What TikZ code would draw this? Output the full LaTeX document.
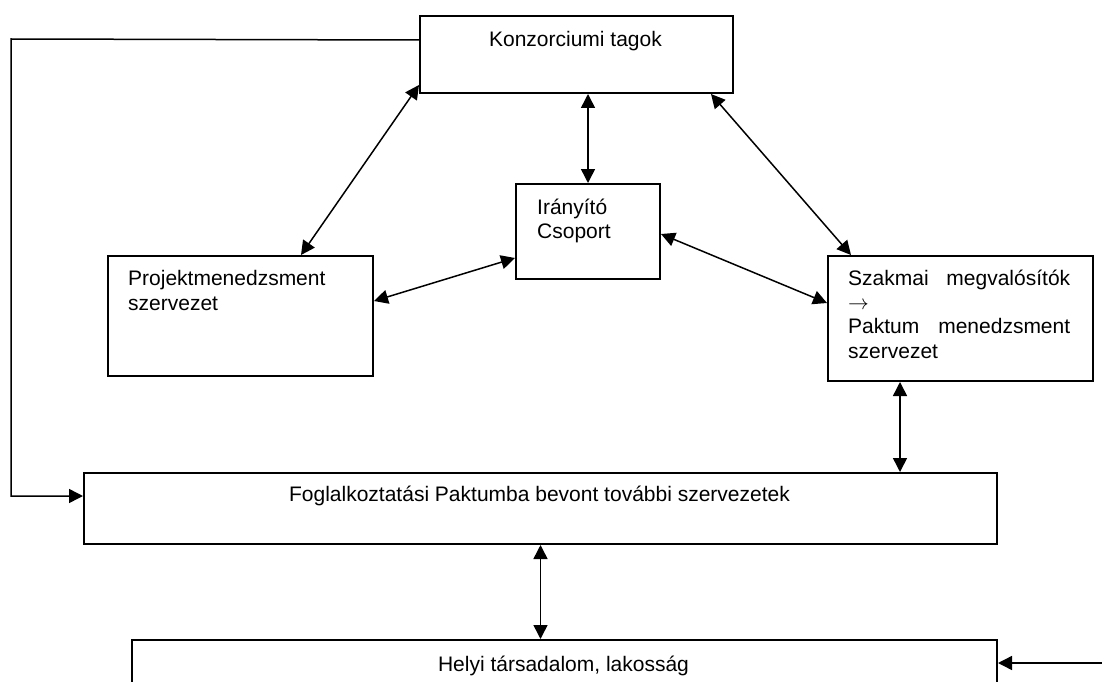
\documentclass[tikz,border=0pt]{standalone}
\usepackage{fontspec}
\setmainfont{Liberation Sans}
\usetikzlibrary{arrows.meta}
\begin{document}
\begin{tikzpicture}[x=1pt,y=-1pt,
  box/.style={draw, line width=2pt, inner sep=0pt, anchor=north west},
  lbl/.style={inner sep=0pt, font=\fontsize{21}{24.5}\selectfont},
  conn/.style={line width=1.5pt, {Triangle[length=14pt,width=14pt]}-{Triangle[length=14pt,width=14pt]}},
  oneway/.style={line width=1.5pt, -{Triangle[length=14pt,width=14pt]}}]
\useasboundingbox (0,0) rectangle (1102,682);
\clip (0,0) rectangle (1102,682);
% boxes
\node[box, minimum width=313pt, minimum height=77pt] (konz) at (419,15) {};
\node[box, minimum width=144pt, minimum height=95pt] (iran) at (515,183) {};
\node[box, minimum width=265pt, minimum height=120pt] (proj) at (107,255) {};
\node[box, minimum width=265pt, minimum height=125pt] (szak) at (827,255) {};
\node[box, minimum width=913pt, minimum height=71pt] (fogl) at (83,472) {};
\node[box, minimum width=865pt, minimum height=48pt] (helyi) at (131,639) {};
% texts
\node[lbl, anchor=base] (tkonz) at (575.5,46.7) {Konzorciumi tagok};
\node[lbl, anchor=base west] (tiran1) at (537,214) {Irányító};
\node[lbl, anchor=base west] (tiran2) at (537,238) {Csoport};
\node[lbl, anchor=base west] (tproj1) at (128,285) {Projektmenedzsment};
\node[lbl, anchor=base west] (tproj2) at (128,310) {szervezet};
\node[lbl, anchor=base west] (tszak1) at (848,285) {\makebox[222pt][s]{Szakmai megvalósítók}};
\node[lbl, anchor=base west] (tszak2) at (848,309) {$\rightarrow$};
\node[lbl, anchor=base west] (tszak3) at (848,333) {\makebox[222pt][s]{Paktum menedzsment}};
\node[lbl, anchor=base west] (tszak4) at (848,358) {szervezet};
\node[lbl, anchor=base] (tfogl) at (539.5,501) {Foglalkoztatási Paktumba bevont további szervezetek};
\node[lbl, anchor=base] (thelyi) at (563.5,671) {Helyi társadalom, lakosság};
% connectors
\coordinate (lc) at (11,39);
\draw[oneway] ([yshift=14.5pt]konz.west) -- (lc) |- ([yshift=12.5pt]fogl.west);
\draw[conn] (iran.north |- konz.south) -- (iran.north);
\draw[conn] ([yshift=9pt]konz.south west) -- ([xshift=60.5pt]proj.north);
\draw[conn] ([xshift=-23pt]konz.south east) -- ([xshift=24pt]szak.north west);
\draw[conn] ([yshift=15pt]proj.east) -- ([yshift=-26.5pt]iran.west);
\draw[conn] ([yshift=-2.5pt]iran.east) -- ([yshift=15.5pt]szak.west);
\draw[conn] ([xshift=-60.5pt]szak.south) -- ([xshift=-60.5pt]szak.south |- fogl.north);
\draw[conn] (fogl.south) -- (fogl.south |- helyi.north);
\coordinate (rin) at (1102,663);
\draw[oneway] (rin) -- (rin -| helyi.east);
\end{tikzpicture}
\end{document}
